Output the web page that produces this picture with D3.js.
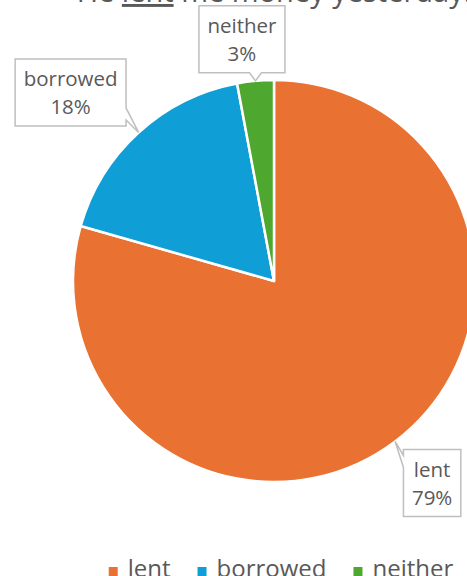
<!DOCTYPE html>
<html>
<head>
<meta charset="utf-8">
<script src="https://cdn.jsdelivr.net/npm/d3@7"></script>
<style>
  html, body { margin: 0; padding: 0; background: #fff; }
  svg { display: block; font-family: "Open Sans", sans-serif; }
</style>
</head>
<body>
<svg id="chart" width="467" height="576"></svg>
<script>
'use strict';

// data
var categories = ['lent', 'borrowed', 'neither'];
var values = [27, 6, 1];
var colors = ['#E97132', '#0F9ED5', '#4EA72E'];
var titleParts = ['He ', 'lent', ' me money yesterday.'];

var width = 467, height = 576;
var cx = 274, cy = 281, radius = 201;
var textColor = '#595959';

var svg = d3.select('#chart');

// title (mostly above the visible area)
var title = svg.append('text')
		.attr('x', cx)
		.attr('y', 2)
		.attr('text-anchor', 'middle')
		.attr('fill', textColor)
		.style('font-size', '29px');
title.selectAll('tspan')
		.data(titleParts)
		.enter()
		.append('tspan')
		.attr('text-decoration', function(d, i) { return i === 1 ? 'underline' : null; })
		.text(function(d) { return d; });

var total = d3.sum(values);
var pie = d3.pie().sort(null).value(function(d) { return d; });
var arcs = pie(values);
var arc = d3.arc().innerRadius(0).outerRadius(radius);

var g = svg.append('g').attr('transform', 'translate(' + cx + ',' + cy + ')');

g.selectAll('path.slice')
		.data(arcs)
		.enter()
		.append('path')
		.attr('class', 'slice')
		.attr('d', arc)
		.attr('fill', function(d, i) { return colors[i]; })
		.attr('stroke', '#fff')
		.attr('stroke-width', 2.5)
		.attr('stroke-linejoin', 'round');

// callout labels: box centre offset from the tip on the pie edge
var labelOffsets = [[37, 41.5], [-68, -40], [-13.5, -41.5]];
var labelFont = 20.5, lineGap = 28, pad = 8.5, boxH = 67, wedge = 12;

function clamp(v, a, b) { return Math.max(a, Math.min(b, v)); }

function calloutPath(x0, y0, w, h, tx, ty) {
	var x1 = x0 + w, y1 = y0 + h;
	var ax = (tx - (x0 + w / 2)) / w, ay = (ty - (y0 + h / 2)) / h;
	var p = [];
	if (Math.abs(ax) > Math.abs(ay)) {
		var c = clamp(ty, y0 + wedge, y1 - wedge);
		if (ax < 0) {
			p = [[x0, y0], [x1, y0], [x1, y1], [x0, y1], [x0, c + wedge / 2], [tx, ty], [x0, c - wedge / 2]];
		} else {
			p = [[x0, y0], [x1, y0], [x1, c - wedge / 2], [tx, ty], [x1, c + wedge / 2], [x1, y1], [x0, y1]];
		}
	} else {
		var m = clamp(tx, x0 + wedge, x1 - wedge);
		if (ay < 0) {
			p = [[x0, y0], [m - wedge / 2, y0], [tx, ty], [m + wedge / 2, y0], [x1, y0], [x1, y1], [x0, y1]];
		} else {
			p = [[x0, y0], [x1, y0], [x1, y1], [m + wedge / 2, y1], [tx, ty], [m - wedge / 2, y1], [x0, y1]];
		}
	}
	return 'M' + p.map(function(q) { return q[0] + ',' + q[1]; }).join('L') + 'Z';
}

var labels = svg.append('g');
arcs.forEach(function(d, i) {
	var mid = (d.startAngle + d.endAngle) / 2;
	var tx = cx + radius * Math.sin(mid);
	var ty = cy - radius * Math.cos(mid);
	var bx = tx + labelOffsets[i][0], by = ty + labelOffsets[i][1];
	var lines = [categories[i], Math.round(values[i] / total * 100) + '%'];

	var lg = labels.append('g');
	var path = lg.append('path')
			.attr('fill', '#fff')
			.attr('stroke', '#bfbfbf')
			.attr('stroke-width', 1.5);
	var texts = lg.selectAll('text')
			.data(lines)
			.enter()
			.append('text')
			.attr('x', bx)
			.attr('y', function(t, j) { return by - 6 + j * lineGap; })
			.attr('text-anchor', 'middle')
			.attr('fill', textColor)
			.style('font-size', labelFont + 'px')
			.text(function(t) { return t; });
	var tw = 0;
	texts.each(function() { tw = Math.max(tw, this.getComputedTextLength()); });
	var bw = tw + 2 * pad;
	path.attr('d', calloutPath(bx - bw / 2, by - boxH / 2, bw, boxH, tx, ty));
});

// legend
var legendFont = 24, sq = 9, sqGap = 10, itemGap = 27, legendY = 577, legendCx = 281;
var legend = svg.append('g');
var items = legend.selectAll('g')
		.data(categories)
		.enter()
		.append('g');
items.append('rect')
		.attr('width', sq)
		.attr('height', sq)
		.attr('y', 567)
		.attr('fill', function(d, i) { return colors[i]; });
items.append('text')
		.attr('x', sq + sqGap)
		.attr('y', legendY)
		.attr('fill', textColor)
		.style('font-size', legendFont + 'px')
		.text(function(d) { return d; });
var xs = [], xpos = 0;
items.each(function() {
	xs.push(xpos);
	xpos += sq + sqGap + this.querySelector('text').getComputedTextLength() + itemGap;
});
var legendW = xpos - itemGap;
items.attr('transform', function(d, i) { return 'translate(' + (legendCx - legendW / 2 + xs[i]) + ',0)'; });
</script>
</body>
</html>
